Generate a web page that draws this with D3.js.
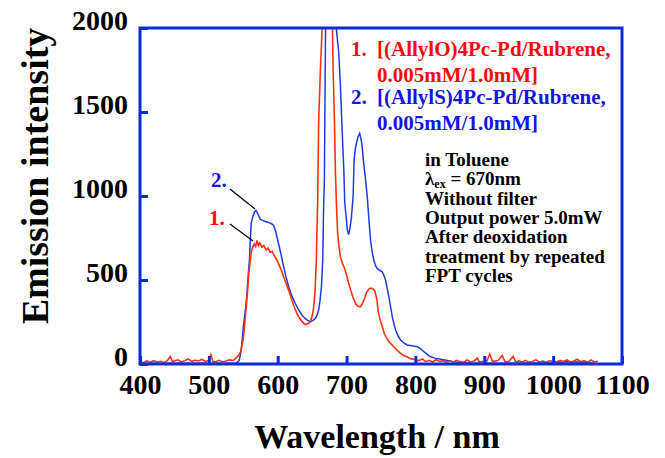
<!DOCTYPE html>
<html>
<head>
<meta charset="utf-8">
<script src="https://cdn.jsdelivr.net/npm/d3@7"></script>
<style>
  body { margin: 0; background: #fff; }
  text { font-family: "Liberation Serif", "Times New Roman", serif; font-weight: bold; }
</style>
</head>
<body>
<svg id="chart"></svg>
<script>
// 1. (AllylO)4Pc-Pd / Rubrene  (red)
const wl1 = [400,405,410,415,420,425,430,435,440,444,447,450,455,460,465,470,475,480,485,490,495,500,503,506,510,515,520,525,530,535,538,542,546,550,553,556,558,561,563,566,568,570,572,574,577,580,583,586,589,592,595,598,601,605,609,613,617,621,625,629,633,637,640,643,646,648,650,652,654,656,657,658,659.5,662,664.4,666,672,678,679.5,680.5,682.4,683.8,685.3,687,689,691,694,697,700,703,706,709,713,716,720,723,726,729,732,735,738,741,744,746,749,752,755,758,762,766,770,774,778,783,788,793,798,805,810,815,820,825,830,835,840,845,850,855,860,865,870,875,880,885,890,893,898,903,908,912,920,926,930,935,942,946,950,955,960,965,970,975,980,985,990,995,1000,1005,1010,1015,1020,1025,1030,1035,1040,1045,1050,1055,1060,1065];
const int1 = [14,8,18,10,20,12,16,8,22,45,14,18,25,12,20,30,16,22,18,28,15,20,55,12,14,22,12,18,25,20,30,45,70,150,280,420,540,650,690,715,700,735,705,720,695,705,680,690,665,670,645,625,600,560,515,470,425,375,330,290,265,245,235,240,245,260,285,330,420,600,800,960,1450,1750,1990,2300,2600,2300,1990,1750,1450,1150,950,780,700,640,600,570,530,480,440,400,360,345,340,360,390,425,445,452,448,435,385,310,260,220,180,155,130,115,95,80,65,50,42,32,27,20,30,14,22,12,26,15,20,10,18,12,22,14,10,24,12,18,35,10,16,12,60,14,20,50,15,12,45,10,18,12,22,10,15,25,12,18,10,20,14,12,22,15,25,12,18,28,14,20,10,24,12,16,10];

// 2. (AllylS)4Pc-Pd / Rubrene  (blue)
const wl2 = [400,540,544,547,550,553,555,557,559,560,561.6,564,566.4,568.4,571,574.7,578,581,584.4,588,591,594,597,601,605,608.6,612,616,620,625.6,630,635,640,644,647.5,651,654.7,657,659.5,661.5,663.5,665.4,666.5,667.8,668.5,669.5,671,683,685.3,688.7,691.1,693.6,696,697.4,700,701,703,705,707,709.5,711,713,715.4,717,719,721,722.6,724,726,728,730,732.5,734.8,737,739.6,742,744.5,748,751.8,754,756.6,759,761.4,764,766.3,769,771.2,775,778.5,783,788,795,802.8,808,812.4,817,822,828,836.7,845,855,866,880,900,950,1000,1020,1040,1050,1060];
const int2 = [5,5,20,80,220,320,400,520,620,720,840,880,905,915,895,862,855,850,845,840,835,825,790,720,650,580,520,460,410,360,325,292,270,258,252,258,272,290,322,380,460,620,900,1100,1500,2000,2400,2400,1990,1850,1650,1390,1155,960,850,800,770,810,870,1000,1220,1290,1333,1355,1373,1340,1294,1230,1155,1080,996,857,738,670,619,585,569,558,549,530,500,450,400,340,282,235,202,165,143,125,113,108,103,88,73,57,43,35,28,22,14,8,6,5,4,8,14,12,8,5];

const xTicks = [400,500,600,700,800,900,1000,1100];
const yTicks = [0,500,1000,1500,2000];

const legend1 = ["1.", "[(AllylO)4Pc-Pd/Rubrene,", "0.005mM/1.0mM]"];
const legend2 = ["2.", "[(AllylS)4Pc-Pd/Rubrene,", "0.005mM/1.0mM]"];
const notes = ["in Toluene", "λex", "Without filter", "Output power 5.0mW", "After deoxidation", "treatment by repeated", "FPT cycles"];

const width = 665, height = 458;
const margin = {top: 28, right: 43, bottom: 94, left: 140},
      bodyWidth = width - margin.left - margin.right,
      bodyHeight = height - margin.top - margin.bottom;

const frameBlue = "#0b2bd8",
      lineRed = "#ff3010",
      lineBlue = "#1a3ce0",
      textRed = "#ff0a0a",
      textBlue = "#1414e6";

const svg = d3.select("#chart")
    .attr("width", width)
    .attr("height", height);

const xScale = d3.scaleLinear().domain([400, 1100]).range([0, bodyWidth]),
      yScale = d3.scaleLinear().domain([0, 2000]).range([bodyHeight, 0]);

const body = svg.append("g")
    .attr("transform", `translate(${margin.left},${margin.top})`);

body.append("clipPath").attr("id", "clip")
  .append("rect").attr("width", bodyWidth).attr("height", bodyHeight);

const line = d3.line().x(d => xScale(d[0])).y(d => yScale(d[1]));

const plot = body.append("g").attr("clip-path", "url(#clip)");
plot.append("path")
    .datum(d3.zip(wl2, int2))
    .attr("d", line)
    .attr("fill", "none")
    .attr("stroke", lineBlue)
    .attr("stroke-width", 1.5);
plot.append("path")
    .datum(d3.zip(wl1, int1))
    .attr("d", line)
    .attr("fill", "none")
    .attr("stroke", lineRed)
    .attr("stroke-width", 1.6);

// axes, ticks pointing inwards
const xAxis = d3.axisBottom(xScale).tickValues(xTicks).tickFormat(d3.format("d"))
    .tickSizeInner(-8).tickSizeOuter(0).tickPadding(10);
const xAxisView = body.append("g")
    .attr("transform", `translate(0,${bodyHeight})`)
    .call(xAxis);

const yAxis = d3.axisLeft(yScale).tickValues(yTicks).tickFormat(d3.format("d"))
    .tickSizeInner(-8).tickSizeOuter(0).tickPadding(12);
const yAxisView = body.append("g").call(yAxis);

[xAxisView, yAxisView].forEach(g => {
    g.select(".domain").remove();
    g.selectAll("line").attr("stroke", frameBlue).attr("stroke-width", 3);
    g.selectAll("text").attr("fill", "#000").style("font-size", "28px");
});
yAxisView.selectAll("text").attr("dy", "0.05em");

body.append("rect")
    .attr("width", bodyWidth)
    .attr("height", bodyHeight)
    .attr("fill", "none")
    .attr("stroke", frameBlue)
    .attr("stroke-width", 3);

// axis titles
svg.append("text")
    .attr("x", margin.left + bodyWidth / 2 - 4)
    .attr("y", 448)
    .attr("text-anchor", "middle")
    .style("font-size", "34px")
    .text("Wavelength / nm");

svg.append("text")
    .attr("transform", `translate(48,176) rotate(-90)`)
    .attr("text-anchor", "middle")
    .style("font-size", "38px")
    .text("Emission intensity");

// legend
function legendBlock(lines, y, color) {
    const g = svg.append("g").attr("fill", color).style("font-size", "21px");
    g.append("text").attr("x", 351).attr("y", y).text(lines[0]);
    g.append("text").attr("x", 377).attr("y", y).text(lines[1]);
    g.append("text").attr("x", 377).attr("y", y + 26).text(lines[2]);
}
legendBlock(legend1, 56, textRed);
legendBlock(legend2, 104, textBlue);

// conditions
const notesG = svg.append("g").style("font-size", "19px").attr("fill", "#000");
notes.forEach((t, i) => {
    const txt = notesG.append("text").attr("x", 425).attr("y", 166 + i * 19.3);
    if (t === "λex") {
        txt.append("tspan").text("λ");
        txt.append("tspan").attr("dy", 3).style("font-size", "12px").text("ex");
        txt.append("tspan").attr("dy", -3).text(" = 670nm");
    } else {
        txt.text(t);
    }
});

// curve labels with leader lines
svg.append("text").attr("x", 211).attr("y", 187).attr("fill", textBlue).style("font-size", "21px").text("2.");
svg.append("text").attr("x", 209).attr("y", 225).attr("fill", textRed).style("font-size", "21px").text("1.");
svg.append("line").attr("x1", 230).attr("y1", 189).attr("x2", 255).attr("y2", 209)
    .attr("stroke", "#000").attr("stroke-width", 1.2);
svg.append("line").attr("x1", 230).attr("y1", 224).attr("x2", 253).attr("y2", 241)
    .attr("stroke", "#000").attr("stroke-width", 1.2);
</script>
</body>
</html>
